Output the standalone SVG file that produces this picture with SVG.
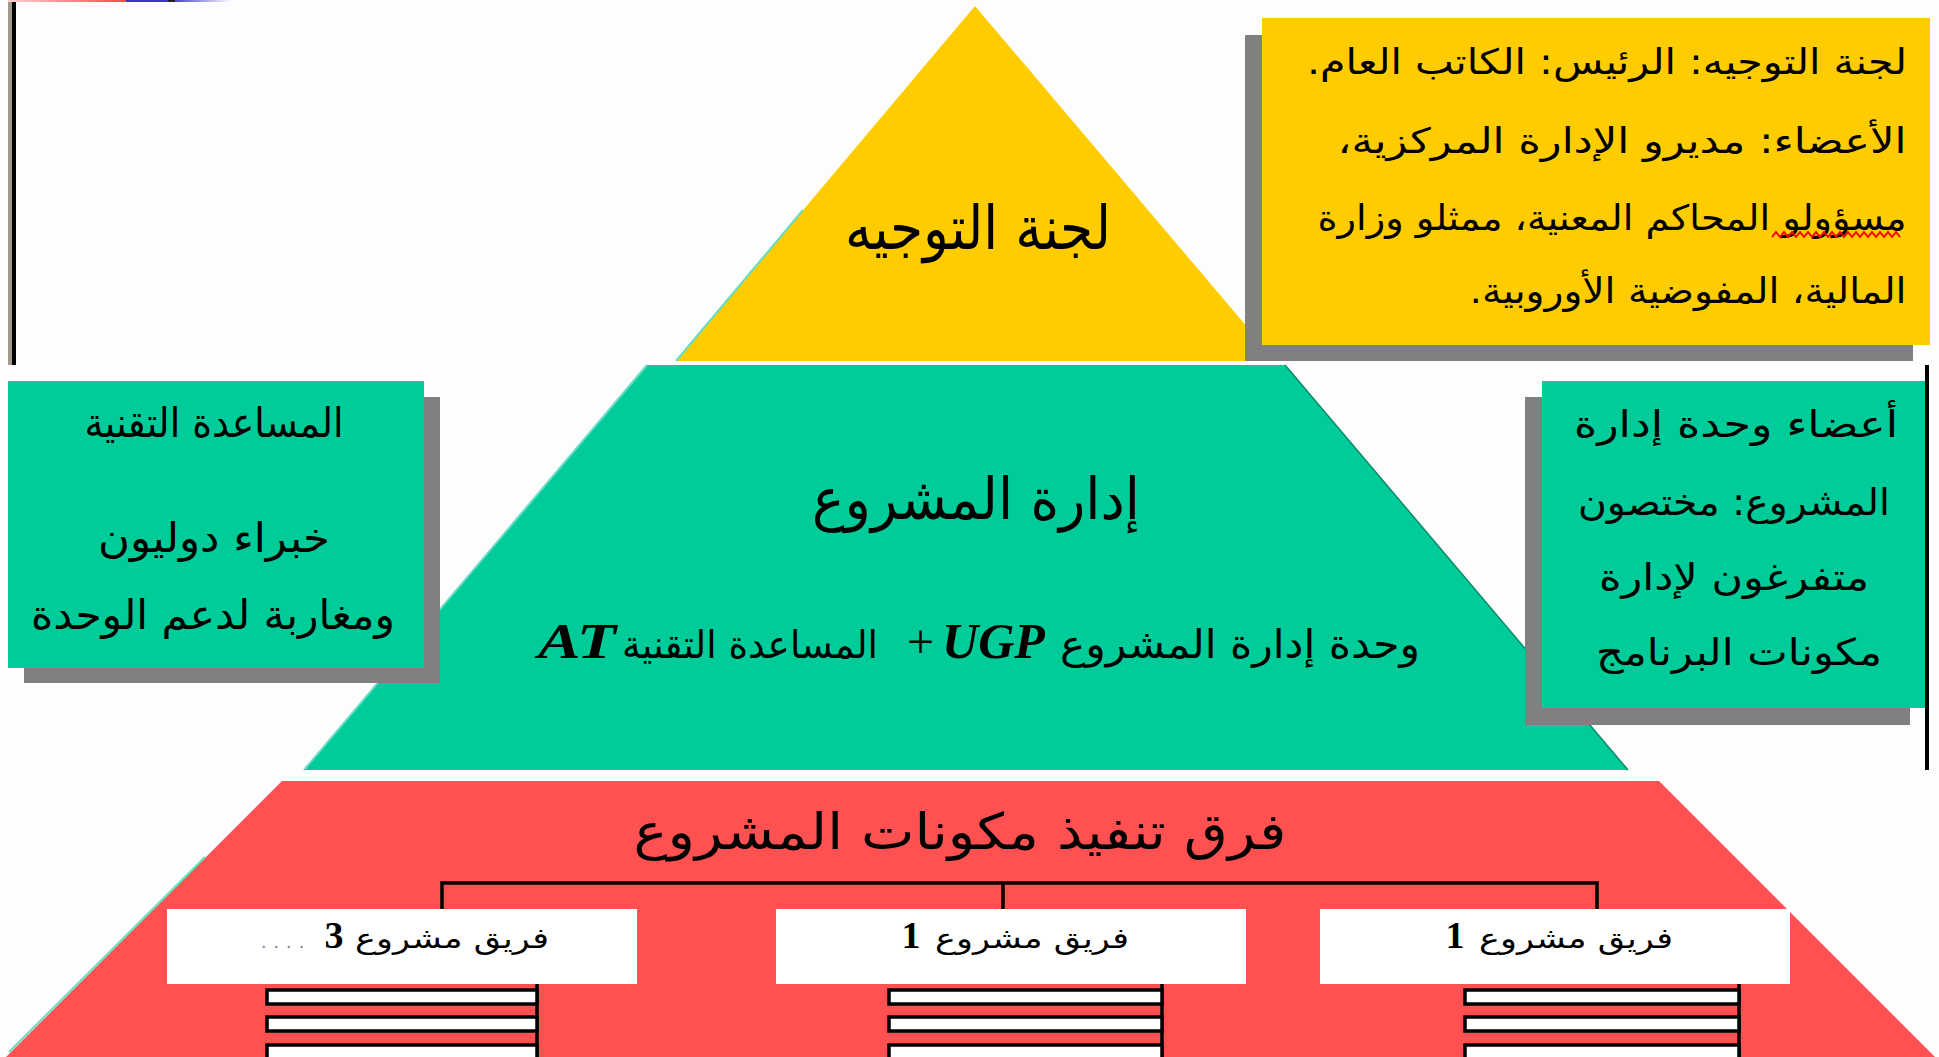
<svg xmlns="http://www.w3.org/2000/svg" width="1939" height="1057" viewBox="0 0 1939 1057">
<defs>
<linearGradient id="gPink" x1="0" x2="1" y1="0" y2="0"><stop offset="0" stop-color="#ffd0d0"/><stop offset="1" stop-color="#ff4848"/></linearGradient>
<linearGradient id="gBlue" x1="0" x2="1" y1="0" y2="0"><stop offset="0" stop-color="#4a46c8"/><stop offset="1" stop-color="#ffffff"/></linearGradient>
<style>
.ar{font-family:"DejaVu Sans",sans-serif;fill:#000;direction:rtl;text-anchor:middle}
.lat{font-family:"Liberation Serif",serif;font-weight:bold;font-style:italic;fill:#000}
.num{font-family:"Liberation Serif",serif;font-weight:bold;fill:#000;text-anchor:middle}
.shadow{fill:#808080}
.yellow{fill:#ffcc00}
.green{fill:#00cc99}
.red{fill:#ff5151}
.line{stroke:#000;stroke-width:3.5;fill:none}
.bar{fill:#fff;stroke:#000;stroke-width:3.5}
.team{fill:#fff}
</style>
</defs>
<rect width="1939" height="1057" fill="#fdfdfd"/>

<!-- top-left decorative strip and frame lines -->
<g id="frame">
<rect x="8" y="0" width="118" height="2" fill="url(#gPink)"/>
<rect x="126" y="0" width="42" height="2" fill="#3a35c8"/>
<rect x="168" y="0" width="7" height="2" fill="#222"/>
<rect x="175" y="0" width="57" height="2" fill="url(#gBlue)"/>
<rect x="8" y="2" width="4" height="363" fill="#a09a8c"/>
<rect x="12" y="2" width="4" height="363" fill="#000"/>
<rect x="1925" y="365" width="4" height="405" fill="#000"/>
</g>

<!-- Tier 1: steering committee -->
<g id="tier-steering">
<polygon class="yellow" points="975,6 1276,361 676,361"/>
<line x1="803" y1="210" x2="676" y2="361" stroke="#66dcc4" stroke-width="2"/>
<text class="ar" x="978" y="249" font-size="60" textLength="266" lengthAdjust="spacingAndGlyphs">لجنة التوجيه</text>
</g>

<!-- Steering committee info box -->
<g id="box-steering-info">
<rect class="shadow" x="1245" y="35" width="668" height="326"/>
<rect class="yellow" x="1262" y="18" width="668" height="327"/>
<text class="ar" x="1607" y="74" font-size="35" textLength="600" lengthAdjust="spacingAndGlyphs">لجنة التوجيه: الرئيس: الكاتب العام.</text>
<text class="ar" x="1622" y="153" font-size="35" textLength="569" lengthAdjust="spacingAndGlyphs">الأعضاء: مديرو الإدارة المركزية،</text>
<text class="ar" x="1612" y="230" font-size="35" textLength="589" lengthAdjust="spacingAndGlyphs">مسؤولو المحاكم المعنية، ممثلو وزارة</text>
<polyline points="1772,237 1776,232 1780,237 1784,232 1788,237 1792,232 1796,237 1800,232 1804,237 1808,232 1812,237 1816,232 1820,237 1824,232 1828,237 1832,232 1836,237 1840,232 1844,237 1848,232 1852,237 1856,232 1860,237 1864,232 1868,237 1872,232 1876,237 1880,232 1884,237 1888,232 1892,237 1896,232 1900,237" fill="none" stroke="#ff0000" stroke-width="2"/>
<text class="ar" x="1688" y="303" font-size="35" textLength="437" lengthAdjust="spacingAndGlyphs">المالية، المفوضية الأوروبية.</text>
</g>

<!-- Tier 2: project management -->
<g id="tier-management">
<polygon class="green" points="647,365 1285,365 1628,770 304,770"/>
<line x1="647" y1="365" x2="304" y2="770" stroke="#66dcc4" stroke-width="2"/>
<line x1="1285" y1="365" x2="1628" y2="770" stroke="#0a8a68" stroke-width="1.5"/>
<text class="ar" x="976" y="519" font-size="58" textLength="328" lengthAdjust="spacingAndGlyphs">إدارة المشروع</text>
<text class="ar" x="1240" y="658" font-size="40" textLength="360" lengthAdjust="spacingAndGlyphs">وحدة إدارة المشروع</text>
<text class="lat" x="907" y="658" font-size="50"><tspan font-style="normal" font-weight="normal" font-size="48">+</tspan><tspan dx="8">UGP</tspan></text>
<text class="ar" x="750" y="658" font-size="38" textLength="256" lengthAdjust="spacingAndGlyphs">المساعدة التقنية</text>
<text class="lat" x="538" y="658" font-size="50" textLength="78" lengthAdjust="spacingAndGlyphs">AT</text>
</g>

<!-- Technical assistance box -->
<g id="box-ta">
<rect class="shadow" x="24" y="397" width="416" height="286"/>
<rect class="green" x="8" y="381" width="416" height="287"/>
<text class="ar" x="214" y="437" font-size="41" textLength="259" lengthAdjust="spacingAndGlyphs">المساعدة التقنية</text>
<text class="ar" x="214" y="552" font-size="41" textLength="232" lengthAdjust="spacingAndGlyphs">خبراء دوليون</text>
<text class="ar" x="213" y="629" font-size="41" textLength="364" lengthAdjust="spacingAndGlyphs">ومغاربة لدعم الوحدة</text>
</g>

<!-- UGP members box -->
<g id="box-ugp-members">
<rect class="shadow" x="1525" y="397" width="385" height="328"/>
<rect class="green" x="1542" y="381" width="383" height="327"/>
<text class="ar" x="1736" y="437" font-size="37" textLength="324" lengthAdjust="spacingAndGlyphs">أعضاء وحدة إدارة</text>
<text class="ar" x="1734" y="515" font-size="37" textLength="312" lengthAdjust="spacingAndGlyphs">المشروع: مختصون</text>
<text class="ar" x="1734" y="590" font-size="37" textLength="270" lengthAdjust="spacingAndGlyphs">متفرغون لإدارة</text>
<text class="ar" x="1739" y="665" font-size="37" textLength="286" lengthAdjust="spacingAndGlyphs">مكونات البرنامج</text>
</g>

<!-- Tier 3: implementation teams -->
<g id="tier-teams">
<polygon class="red" points="282,781 1659,781 1935,1057 6,1057"/>
<line x1="205" y1="857" x2="9" y2="1052" stroke="#66dcc4" stroke-width="2"/>
<text class="ar" x="960" y="849" font-size="50" textLength="653" lengthAdjust="spacingAndGlyphs">فرق تنفيذ مكونات المشروع</text>
</g>

<!-- connectors -->
<g id="connectors">
<polyline class="line" points="442,909 442,883 1597,883 1597,909"/>
<line class="line" x1="1003" y1="883" x2="1003" y2="909"/>
<line class="line" x1="537" y1="984" x2="537" y2="1057"/>
<line class="line" x1="1162" y1="984" x2="1162" y2="1057"/>
<line class="line" x1="1739" y1="984" x2="1739" y2="1057"/>
</g>

<g id="team-3">
<rect class="team" x="167" y="909" width="470" height="75"/>
<text class="ar" x="452" y="948" font-size="28" fill="#222" textLength="194" lengthAdjust="spacingAndGlyphs">فريق مشروع</text>
<text class="num" x="334" y="948" font-size="38">3</text>
<text x="261" y="948" font-family="Liberation Sans, sans-serif" font-size="20" fill="#888" letter-spacing="7">....</text>
<rect class="bar" x="267" y="990" width="270" height="14"/>
<rect class="bar" x="267" y="1017" width="270" height="14"/>
<rect class="bar" x="267" y="1045" width="270" height="14"/>
</g>

<g id="team-2">
<rect class="team" x="776" y="909" width="470" height="75"/>
<text class="ar" x="1032" y="948" font-size="28" fill="#222" textLength="194" lengthAdjust="spacingAndGlyphs">فريق مشروع</text>
<text class="num" x="911" y="948" font-size="38">1</text>
<rect class="bar" x="889" y="990" width="273" height="14"/>
<rect class="bar" x="889" y="1017" width="273" height="14"/>
<rect class="bar" x="889" y="1045" width="273" height="14"/>
</g>

<g id="team-1">
<rect class="team" x="1320" y="909" width="470" height="75"/>
<text class="ar" x="1576" y="948" font-size="28" fill="#222" textLength="194" lengthAdjust="spacingAndGlyphs">فريق مشروع</text>
<text class="num" x="1455" y="948" font-size="38">1</text>
<rect class="bar" x="1465" y="990" width="274" height="14"/>
<rect class="bar" x="1465" y="1017" width="274" height="14"/>
<rect class="bar" x="1465" y="1045" width="274" height="14"/>
</g>
</svg>
